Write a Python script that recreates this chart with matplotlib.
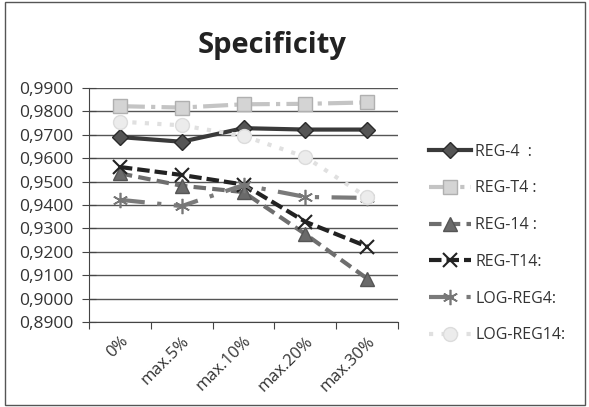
import matplotlib.pyplot as plt
from matplotlib.patches import Rectangle
from matplotlib.ticker import FuncFormatter, FixedLocator

categories = ["0%", "max.5%", "max.10%", "max.20%", "max.30%"]

reg_4 = [0.9690, 0.9670, 0.9728, 0.9722, 0.9722]
reg_t4 = [0.9822, 0.9816, 0.9830, 0.9832, 0.9838]
reg_14 = [0.9535, 0.9482, 0.9455, 0.9275, 0.9085]
reg_t14 = [0.9562, 0.9528, 0.9487, 0.9328, 0.9222]
log_reg4 = [0.9422, 0.9395, 0.9485, 0.9434, 0.9430]
log_reg14 = [0.9756, 0.9740, 0.9695, 0.9605, 0.9432]

series = [
    ("REG-4  :", reg_4, dict(color="#3a3a3a", ls="-", lw=3, marker="D", ms=8,
                             mfc="#555555", mec="#2a2a2a")),
    ("REG-T4 :", reg_t4, dict(color="#c4c4c4", ls=(0, (6, 1.5, 1, 1.5)), lw=3, marker="s", ms=10,
                              mfc="#d4d4d4", mec="#b0b0b0")),
    ("REG-14 :", reg_14, dict(color="#6e6e6e", ls=(0, (3, 1.5)), lw=3, marker="^", ms=10,
                              mfc="#6a6a6a", mec="#555555")),
    ("REG-T14:", reg_t14, dict(color="#222222", ls=(0, (3, 1.2)), lw=3, marker="x", ms=10,
                               mew=1.5, mec="#222222")),
    ("LOG-REG4:", log_reg4, dict(color="#7a7a7a", ls=(0, (6, 3, 1, 3)), lw=3, marker=(6, 2, 0),
                                 ms=11, mew=1.2, mec="#777777")),
    ("LOG-REG14:", log_reg14, dict(color="#e0e0e0", ls=(0, (1, 2)), lw=3, marker="o", ms=10,
                                   mfc="#ececec", mec="#dcdcdc")),
]

plt.rcParams["font.family"] = ["Open Sans", "DejaVu Sans"]

fig = plt.figure(figsize=(5.89, 4.07), dpi=100)
ax = fig.add_axes([0.151, 0.209, 0.525, 0.575])

x = list(range(len(categories)))
for label, values, style in series:
    ax.plot(x, values, label=label, **style)

ax.set_xlim(-0.5, len(categories) - 0.5)
ax.set_ylim(0.89, 0.99)
ax.set_yticks([0.89 + 0.01 * i for i in range(11)])
ax.yaxis.set_major_formatter(FuncFormatter(lambda v, _: f"{v:.4f}".replace(".", ",")))
ax.grid(axis="y", color="#555555", lw=1)
ax.set_axisbelow(True)

# category labels sit between the tick marks
ax.xaxis.set_major_locator(FixedLocator([i - 0.5 for i in range(len(categories) + 1)]))
ax.xaxis.set_major_formatter(FuncFormatter(lambda v, _: ""))
ax.xaxis.set_minor_locator(FixedLocator(x))
ax.set_xticklabels(categories, minor=True, rotation=45, ha="right", rotation_mode="anchor",
                   fontsize=12, color="#333333")
ax.tick_params(axis="x", which="minor", length=0, pad=8)
ax.tick_params(axis="x", which="major", direction="out", length=5, color="#444444")
ax.tick_params(axis="y", direction="inout", length=10, color="#444444", labelsize=12.5,
               labelcolor="#333333", pad=6)

for side in ("top", "right"):
    ax.spines[side].set_visible(False)
ax.spines["left"].set_color("#444444")
ax.spines["bottom"].set_color("#444444")

fig.text(0.462, 0.888, "Specificity", ha="center", va="center", fontsize=21,
         fontweight="bold", color="#222222")

ax.legend(loc="center left", bbox_to_anchor=(1.1, 0.335), frameon=False, fontsize=11.5,
          labelspacing=1.3, handlelength=2.6, handletextpad=0.3, borderpad=0,
          borderaxespad=0, labelcolor="#333333")

fig.patches.append(Rectangle((0.008, 0.005), 0.985, 0.99, transform=fig.transFigure,
                             fill=False, edgecolor="#555555", lw=1))

fig.savefig("out.png", dpi=100)
